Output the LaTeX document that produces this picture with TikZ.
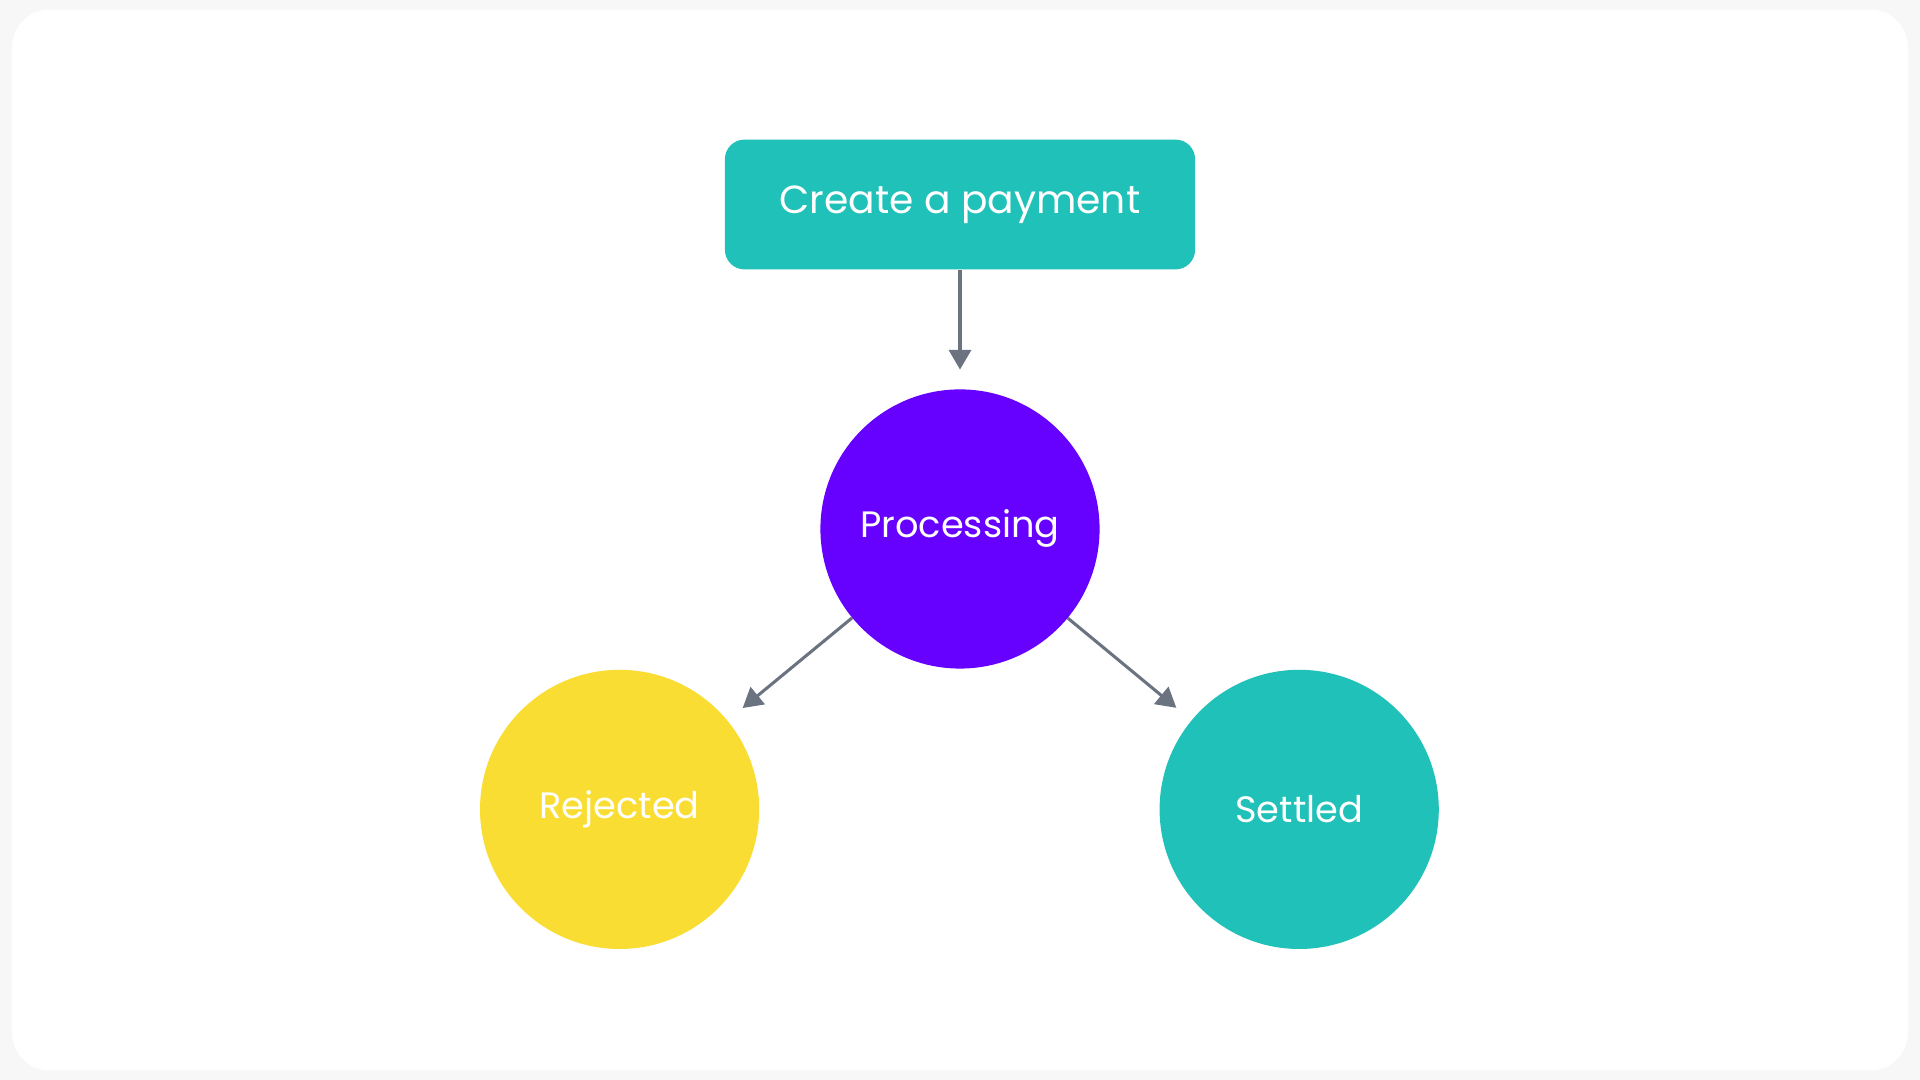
\documentclass[tikz,border=0pt]{standalone}
\usepackage{fontspec}
\setmainfont{Poppins}
\usetikzlibrary{arrows.meta}
\definecolor{teal1}{HTML}{20C1B8}
\definecolor{purp}{HTML}{6600FF}
\definecolor{yel}{HTML}{FADD33}
\definecolor{arr}{HTML}{6B7280}
\tikzset{
  state/.style={circle,minimum size=228pt,inner sep=0pt,text=white,font=\fontsize{30}{34}\selectfont},
  conn/.style={draw=arr,line width=2.5pt,-{Triangle[width=18pt,length=16pt]},shorten >=16pt}
}
\begin{document}
\begin{tikzpicture}[x=1pt,y=-1pt]
\fill[black!3] (0,0) rectangle (1568,882);
\fill[white,rounded corners=30pt] (10,8) rectangle (1558,874);
\node[fill=teal1,rounded corners=16pt,minimum width=384pt,minimum height=106pt,text=white,font=\fontsize{32}{36}\selectfont] (create) at (784,167) {Create a payment};
\node[state,fill=purp] (proc) at (784,432) {Processing};
\node[state,fill=yel] (rej) at (506,661) {Rejected};
\node[state,fill=teal1] (set) at (1061,661) {Settled};
\draw[conn] (create) -- (proc);
\draw[conn] (proc) -- (rej);
\draw[conn] (proc) -- (set);
\end{tikzpicture}
\end{document}
